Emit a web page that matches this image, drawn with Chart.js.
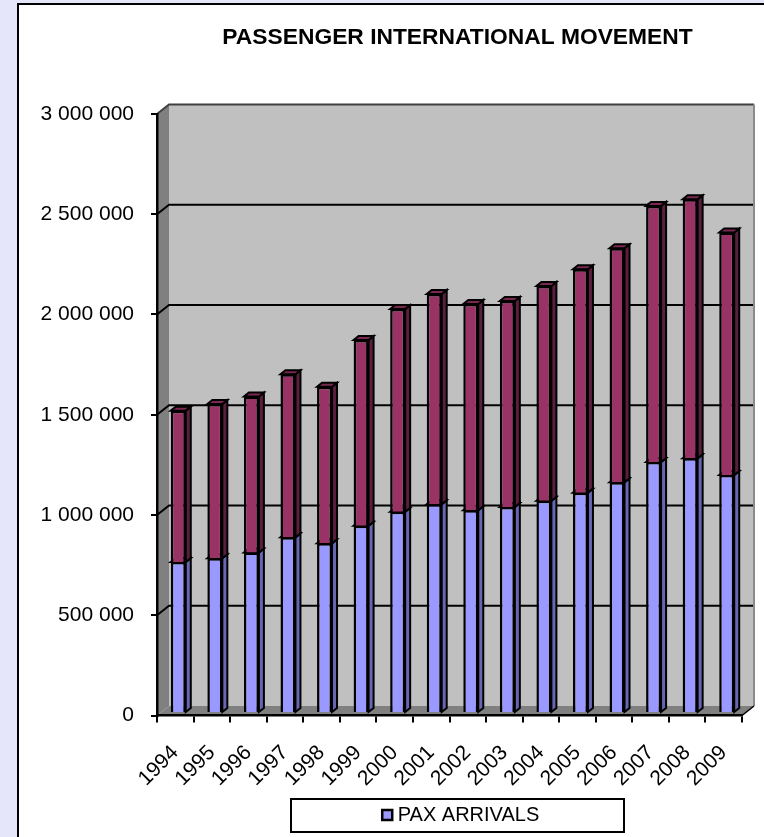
<!DOCTYPE html>
<html><head><meta charset="utf-8">
<style>
html,body{margin:0;padding:0;width:764px;height:837px;overflow:hidden;background:#e6e6fa}
#frame{position:absolute;left:17px;top:3px;width:800px;height:900px;background:#fff;border:2px solid #000;box-sizing:border-box}
canvas{position:absolute;left:0;top:0;display:block}
</style>
<script src="https://cdn.jsdelivr.net/npm/chart.js@4"></script>
</head><body>
<div id="frame"></div>
<canvas id="c" width="764" height="837"></canvas>
<script>
const years = ['1994','1995','1996','1997','1998','1999','2000','2001','2002','2003','2004','2005','2006','2007','2008','2009'];
const paxArrivals = [753000,772000,800000,876000,846000,934000,1004000,1041000,1011000,1027000,1059000,1099000,1151000,1252000,1270000,1187000];
const upperSeries = [755000,769000,778000,813000,781000,926000,1011000,1049000,1029000,1028000,1071000,1114000,1167000,1277000,1292000,1209000];

const WALL = {dx:12, dy:-9.5};
const BAR = {shiftX:3, shiftY:-2.5, dx:5, dy:-4};
const SIDES = [
  {front:'#9999ff', side:'#6666b3', top:'#7a7acc'},
  {front:'#993366', side:'#5a1f3e', top:'#7a2852'}
];

function poly(ctx, pts, fill, stroke, lw){
  ctx.beginPath();
  pts.forEach((p,i)=> i?ctx.lineTo(p[0],p[1]):ctx.moveTo(p[0],p[1]));
  ctx.closePath();
  if(fill){ctx.fillStyle=fill;ctx.fill();}
  if(stroke){ctx.strokeStyle=stroke;ctx.lineWidth=lw||1;ctx.stroke();}
}

const depth3d = {
  id:'depth3d',
  afterLayout(chart){
    chart.titleBlock.left += 86.5; chart.titleBlock.right += 86.5;
    chart.legend.left += 92; chart.legend.right += 92;
  },
  beforeDraw(chart){
    const {ctx,chartArea:a,scales:{y}} = chart;
    const d=WALL.dx,h=WALL.dy;
    ctx.save();
    poly(ctx,[[a.left+d,a.top+h],[a.right+d,a.top+h],[a.right+d,a.bottom+h],[a.left+d,a.bottom+h]],'#c0c0c0');
    poly(ctx,[[a.left,a.top],[a.left+d,a.top+h],[a.left+d,a.bottom+h],[a.left,a.bottom]],'#808080');
    poly(ctx,[[a.left,a.bottom],[a.left+d,a.bottom+h],[a.right+d,a.bottom+h],[a.right,a.bottom]],'#808080');
    ctx.strokeStyle='#000';ctx.lineWidth=2;
    y.ticks.forEach(t=>{
      const py=y.getPixelForValue(t.value);
      if(t.value===0) return;
      ctx.beginPath();
      ctx.moveTo(a.left,py);ctx.lineTo(a.left+d,py+h);
      ctx.lineTo(a.right+d,py+h);
      ctx.strokeStyle=t.value===3000000?'#404040':'#000';
      ctx.stroke();
    });
    ctx.fillStyle='#8a8a8a';
    ctx.fillRect(a.right+d-1,a.top+h,2,a.bottom-a.top);
    ctx.beginPath();ctx.strokeStyle='#000';ctx.lineWidth=1.5;
    ctx.moveTo(a.right,a.bottom);ctx.lineTo(a.right+d,a.bottom+h);ctx.stroke();
    // legend frame
    ctx.fillStyle='#fff';ctx.strokeStyle='#000';ctx.lineWidth=2;
    ctx.fillRect(291,799,333,33);ctx.strokeRect(291,799,333,33);
    ctx.restore();
  },
  beforeDatasetsDraw(chart){
    const ctx=chart.ctx;
    ctx.save();
    ctx.translate(BAR.shiftX,BAR.shiftY);
    chart.data.datasets.forEach((ds,i)=>{
      const c=SIDES[i];
      chart.getDatasetMeta(i).data.forEach(el=>{
        const p=el.getProps(['x','y','base','width']);
        const r=p.x+p.width/2,l=p.x-p.width/2,dx=BAR.dx,dy=BAR.dy;
        poly(ctx,[[r,p.y],[r+dx,p.y+dy],[r+dx,p.base+dy],[r,p.base]],c.side,'#000',2);
        poly(ctx,[[l,p.y],[l+dx,p.y+dy],[r+dx,p.y+dy],[r,p.y]],c.top,'#000',2);
      });
    });
  },
  afterDatasetsDraw(chart){ chart.ctx.restore(); }
};

new Chart(document.getElementById('c'),{
  type:'bar',
  data:{labels:years,datasets:[
    {label:'PAX ARRIVALS',data:paxArrivals,backgroundColor:SIDES[0].front,borderColor:'#000',borderWidth:2.5},
    {label:'',data:upperSeries,backgroundColor:SIDES[1].front,borderColor:'#000',borderWidth:2.5}
  ]},
  plugins:[depth3d],
  options:{
    responsive:false,animation:false,
    layout:{padding:{left:0,right:22,top:0,bottom:2}},
    datasets:{bar:{barPercentage:0.41,categoryPercentage:1}},
    plugins:{
      tooltip:{enabled:false},
      title:{display:true,text:'PASSENGER INTERNATIONAL MOVEMENT',color:'#000',
        font:{family:'"Liberation Sans"',size:22.8,weight:'bold',lineHeight:1.2},
        padding:{top:24.5,bottom:62.1}},
      legend:{display:true,position:'bottom',
        labels:{color:'#000',font:{family:'"Liberation Sans"',size:20},usePointStyle:true,pointStyle:'rect',boxWidth:1,boxHeight:10,padding:8,
          filter:item=>item.datasetIndex===0}}
    },
    scales:{
      x:{stacked:true,offset:true,
        afterFit:s=>{s.height=837-2-s.chart.legend.height-715.5;},
        grid:{drawOnChartArea:false,offset:true,color:'#000',lineWidth:2,tickLength:7},
        border:{display:true,color:'#000',width:2.5},
        ticks:{color:'#000',font:{family:'"Liberation Sans"',size:21},minRotation:45,maxRotation:45,autoSkip:false,padding:18}},
      y:{stacked:true,min:0,max:3000000,
        afterFit:s=>{s.width=157;},
        grid:{drawOnChartArea:false,color:'#000',lineWidth:2,tickLength:6},
        border:{display:true,color:'#000',width:2.5},
        ticks:{stepSize:500000,color:'#000',font:{family:'"Liberation Sans"',size:21},padding:17,
          callback:v=>String(v).replace(/\B(?=(\d{3})+$)/g,' ')}}
    }
  }
});
</script>
</body></html>
